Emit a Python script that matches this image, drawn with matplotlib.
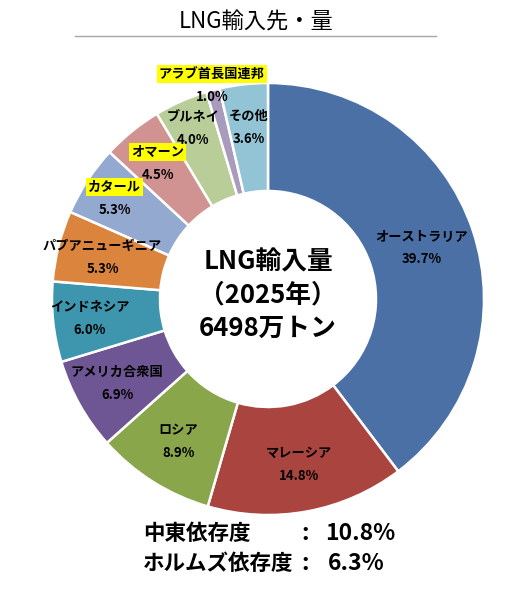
import matplotlib
matplotlib.use("Agg")
from matplotlib import pyplot as plt
import numpy as np

plt.rcParams['font.family'] = ['Noto Sans CJK JP', 'DejaVu Sans']

countries = ['オーストラリア', 'マレーシア', 'ロシア', 'アメリカ合衆国', 'インドネシア',
             'パプアニューギニア', 'カタール', 'オマーン', 'ブルネイ', 'アラブ首長国連邦', 'その他']
shares = [39.7, 14.8, 8.9, 6.9, 6.0, 5.3, 5.3, 4.5, 4.0, 1.0, 3.6]
colors = ['#4A70A6', '#A9443F', '#8AA64A', '#6E5593', '#3D96AE', '#DB843D',
          '#94A9D0', '#D19392', '#B8CD97', '#A99BBD', '#92C4D6']
highlight = ['カタール', 'オマーン', 'アラブ首長国連邦']
# label distance from centre, in units of the outer radius
label_r = [0.75, 0.78, 0.78, 0.80, 0.83, 0.79, 0.85, 0.81, 0.86, 1.02, 0.80]

center_lines = ['LNG輸入量', '（2025年）', '6498万トン']
dep_names = ['中東依存度', 'ホルムズ依存度']
dep_values = ['10.8%', '6.3%']

W, H = 523, 594
fig = plt.figure(figsize=(W / 100, H / 100), dpi=100)
ax = fig.add_axes([0, 0, 1, 1])

cx, cy, R = 268, 295, 216
wedges, _ = ax.pie(shares, colors=colors, startangle=90, counterclock=False,
                   radius=R, center=(cx, cy), frame=True,
                   wedgeprops=dict(width=R * 0.5, edgecolor='white', linewidth=1.8))
ax.set_xlim(0, W)
ax.set_ylim(0, H)
ax.axis('off')

for w, name, val, r in zip(wedges, countries, shares, label_r):
    mid = np.deg2rad((w.theta1 + w.theta2) / 2)
    x = cx + r * R * np.cos(mid)
    y = cy + r * R * np.sin(mid)
    box = dict(boxstyle='square,pad=0.15', fc='#FFFF00', ec='none') if name in highlight else None
    ax.text(x, y + 11.5, name, ha='center', va='center', fontsize=9.5,
            fontweight='bold', bbox=box)
    ax.text(x, y - 11.5, f'{val:.1f}%', ha='center', va='center', fontsize=9.5,
            fontweight='bold')

for i, line in enumerate(center_lines):
    ax.text(cx, cy + 37 - i * 33, line, ha='center', va='center', fontsize=18.5,
            fontweight='bold')

# title
ax.text(256, H - 22, 'LNG輸入先・量', ha='center', va='center', fontsize=16)
ax.plot([75, 436], [H - 36, H - 36], color='#A6A6A6', lw=1)

# dependency lines
for i, (nm, v) in enumerate(zip(dep_names, dep_values)):
    y = H - 534 - i * 29
    ax.text(143, y, nm, ha='left', va='center', fontsize=15.5, fontweight='bold')
    ax.text(305, y, ':', ha='center', va='center', fontsize=16.5, fontweight='bold')
    ax.text(395 - i * 10, y, v, ha='right', va='center', fontsize=16.5, fontweight='bold')

fig.savefig('out.png', dpi=100)
